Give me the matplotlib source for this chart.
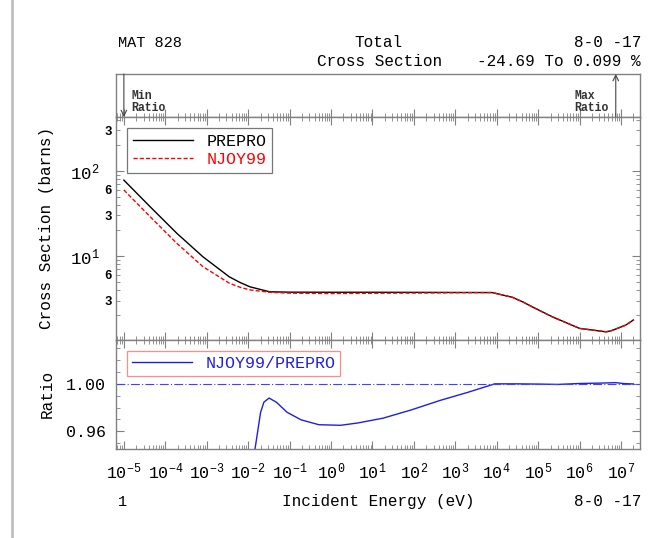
import numpy as np
import matplotlib
matplotlib.use('Agg')
import matplotlib.pyplot as plt
from matplotlib.lines import Line2D
from matplotlib.ticker import LogLocator, FixedLocator, FuncFormatter, NullFormatter, MultipleLocator

# ---------------- data ----------------
energy_prepro = [1e-5, 4.3e-5, 1.9e-4, 8.1e-4, 3.5e-3, 6.3e-3, 1.1e-2, 3.3e-2, 0.1, 1.0, 10.0,
                 100.0, 1000.0, 7.8e3, 2.4e4, 4.2e4, 7.2e4, 2.2e5, 1.0e6, 4.4e6, 6.0e6, 1.3e7, 2.0e7]
xs_prepro = [78.0, 38.0, 18.5, 9.8, 5.7, 4.9, 4.35, 3.8, 3.76, 3.75, 3.75,
             3.74, 3.73, 3.72, 3.27, 2.9, 2.53, 1.93, 1.41, 1.285, 1.33, 1.54, 1.77]

energy_njoy = [1e-5, 4.3e-5, 1.9e-4, 8.1e-4, 3.5e-3, 6.3e-3, 1.1e-2, 3.3e-2, 0.1, 1.0, 10.0,
               100.0, 1000.0, 7.8e3, 2.4e4, 4.2e4, 7.2e4, 2.2e5, 1.0e6, 4.4e6, 6.0e6, 1.3e7, 2.0e7]
xs_njoy = [59.8, 29.0, 14.1, 7.5, 4.8, 4.3, 4.0, 3.75, 3.66, 3.62, 3.65,
           3.67, 3.70, 3.72, 3.27, 2.9, 2.53, 1.93, 1.41, 1.285, 1.33, 1.54, 1.77]

energy_ratio = [1e-5, 1e-4, 1e-3, 3.5e-3, 1e-2, 1.48e-2, 2.0e-2, 2.4e-2, 3.2e-2, 4.8e-2, 8.7e-2,
                0.19, 0.51, 1.7, 4.5, 18.0, 87.0, 430.0, 2000.0, 9000.0, 3e4, 1e5, 3e5, 1e6,
                3e6, 7.5e6, 1.2e7, 2e7]
ratio = [0.7531, 0.762, 0.776, 0.842, 0.915, 0.946, 0.976, 0.9845, 0.988, 0.9845, 0.976,
         0.9696, 0.9655, 0.965, 0.967, 0.971, 0.978, 0.986, 0.9928, 1.0, 1.0, 0.9998, 0.9995, 1.0003,
         1.0006, 1.00099, 1.0002, 0.9999]

x_tick_exponents = [-5, -4, -3, -2, -1, 0, 1, 2, 3, 4, 5, 6, 7]
min_ratio_energy = 1e-5
max_ratio_energy = 7.5e6

# ---------------- layout ----------------
W, H = 659, 538
FONT = 'Liberation Mono'
plt.rcParams['font.family'] = [FONT, 'DejaVu Sans']
plt.rcParams['mathtext.fontset'] = 'custom'
plt.rcParams['mathtext.rm'] = FONT
plt.rcParams['mathtext.it'] = FONT

fig = plt.figure(figsize=(W / 100, H / 100), dpi=100)
fig.patch.set_facecolor('white')


def rect(l, t, r, b):
    return [l / W, 1 - b / H, (r - l) / W, (b - t) / H]


def fy(y):
    return 1 - y / H


SPINE = '#808080'
XLIM = (10 ** -5.19, 10 ** 7.46)

ax_top = fig.add_axes(rect(116, 74, 640, 117))
ax_main = fig.add_axes(rect(116, 117, 640, 340))
ax_rat = fig.add_axes(rect(116, 340, 640, 449))

for ax in (ax_top, ax_main, ax_rat):
    ax.set_xscale('log')
    ax.set_xlim(*XLIM)
    for s in ax.spines.values():
        s.set_color(SPINE)
        s.set_linewidth(1.0)
    ax.xaxis.set_major_locator(FixedLocator([10.0 ** e for e in x_tick_exponents]))
    ax.xaxis.set_minor_locator(LogLocator(base=10, subs=np.arange(2, 10), numticks=100))
    ax.tick_params(which='both', direction='in', color=SPINE, top=True, bottom=True)
    ax.tick_params(which='major', length=6, width=0.8)
    ax.tick_params(which='minor', length=3, width=0.6)
    ax.xaxis.set_major_formatter(NullFormatter())
    ax.xaxis.set_minor_formatter(NullFormatter())

# top info box
ax_top.set_ylim(0, 1)
ax_top.set_yticks([])
ax_top.tick_params(which='both', top=False)
ax_top.annotate('', xy=(min_ratio_energy, 0.0), xytext=(min_ratio_energy, 1.0),
                xycoords=('data', 'axes fraction'), textcoords=('data', 'axes fraction'),
                arrowprops=dict(arrowstyle='->', color='#444444', lw=0.8, shrinkA=0, shrinkB=0))
ax_top.annotate('', xy=(max_ratio_energy, 1.0), xytext=(max_ratio_energy, 0.0),
                xycoords=('data', 'axes fraction'), textcoords=('data', 'axes fraction'),
                arrowprops=dict(arrowstyle='->', color='#444444', lw=0.8, shrinkA=0, shrinkB=0))
fig.text(131 / W, fy(114), 'Min\nRatio', fontsize=8.3, fontweight='bold', ha='left', va='bottom',
         linespacing=1.05, color='#333333')
fig.text(609 / W, fy(114), 'Max\nRatio', fontsize=8.3, fontweight='bold', ha='right', va='bottom',
         linespacing=1.05, color='#333333', multialignment='left')

# main panel
ax_main.plot(energy_prepro, xs_prepro, color='black', lw=1.0, label='PREPRO')
ax_main.plot(energy_njoy, xs_njoy, color='red', lw=1.0, ls=(0, (3, 1.5)), label='NJOY99')
ax_main.set_yscale('log')
ax_main.set_ylim(1.03, 431)
ax_main.yaxis.set_major_locator(FixedLocator([10.0, 100.0]))
ax_main.yaxis.set_minor_locator(LogLocator(base=10, subs=np.arange(2, 10), numticks=100))
ax_main.yaxis.set_major_formatter(FuncFormatter(lambda v, p: r'$\mathregular{10^{%d}}$' % round(np.log10(v))))


def minor_fmt(v, p):
    m = v / 10 ** np.floor(np.log10(v) + 1e-9)
    m = round(m)
    return str(m) if m in (3, 6) else ''


ax_main.yaxis.set_minor_formatter(FuncFormatter(minor_fmt))
ax_main.tick_params(axis='y', which='both', right=True, left=True)
ax_main.tick_params(axis='y', which='major', pad=12, labelsize=12.5)
ax_main.tick_params(axis='y', which='minor', pad=3, labelsize=9)
for t in ax_main.yaxis.get_minorticklabels():
    t.set_fontweight('bold')
leg = ax_main.legend(loc='upper left', bbox_to_anchor=((127 - 116) / 524, 1 - (128 - 117) / 223),
                     frameon=True, fancybox=False, edgecolor='#555555', fontsize=12,
                     handlelength=3.6, borderpad=0.35, labelspacing=0.2, borderaxespad=0,
                     labelcolor='linecolor')
leg.get_frame().set_linewidth(0.9)

# ratio panel
ax_rat.plot(energy_ratio, ratio, color='#1f1fe0', lw=1.0, label='NJOY99/PREPRO')
ax_rat.axhline(1.0, color='#4040ff', lw=0.8, ls=(0, (8, 2, 1, 2)))
ax_rat.set_ylim(0.945, 1.037)
ax_rat.yaxis.set_major_locator(FixedLocator([0.96, 1.00]))
ax_rat.yaxis.set_minor_locator(MultipleLocator(0.01))
ax_rat.yaxis.set_major_formatter(FuncFormatter(lambda v, p: '%.2f' % v))
ax_rat.tick_params(axis='y', which='both', right=True, left=True)
ax_rat.tick_params(axis='y', which='major', pad=7, labelsize=12)
ax_rat.xaxis.set_major_formatter(FuncFormatter(lambda v, p: r'$\mathregular{10^{%d}}$' % round(np.log10(v))))
ax_rat.tick_params(axis='x', which='major', pad=9, labelsize=12)
leg2 = ax_rat.legend(loc='upper left', bbox_to_anchor=((127 - 116) / 524, 1 - (351 - 340) / 109),
                     frameon=True, fancybox=False, edgecolor='#ff7070', fontsize=12,
                     handlelength=3.6, borderpad=0.3, borderaxespad=0, labelcolor='linecolor')
leg2.get_frame().set_linewidth(0.9)

# axis labels
fig.text(47 / W, fy(228), 'Cross Section (barns)', rotation=90, ha='center', va='center', fontsize=11.5)
fig.text(47 / W, fy(394), 'Ratio', rotation=90, ha='center', va='center', fontsize=11.5)

# header
fig.text(118 / W, fy(47), 'MAT 828', ha='left', va='baseline', fontsize=11)
fig.text(378 / W, fy(47), 'Total', ha='center', va='baseline', fontsize=11.5)
fig.text(380 / W, fy(66), 'Cross Section', ha='center', va='baseline', fontsize=11.5)
fig.text(641 / W, fy(47), '8-0 -17', ha='right', va='baseline', fontsize=11.5)
fig.text(641 / W, fy(66), '-24.69 To 0.099 %', ha='right', va='baseline', fontsize=11.5)

# footer
fig.text(118 / W, fy(506), '1', ha='left', va='baseline', fontsize=11)
fig.text(378 / W, fy(506), 'Incident Energy (eV)', ha='center', va='baseline', fontsize=11.5)
fig.text(641 / W, fy(506), '8-0 -17', ha='right', va='baseline', fontsize=11.5)

# left page border
fig.add_artist(Line2D([12 / W, 12 / W], [0, 1], color='#c0c0c0', lw=2))

fig.savefig('out.png', dpi=100, facecolor='white')
